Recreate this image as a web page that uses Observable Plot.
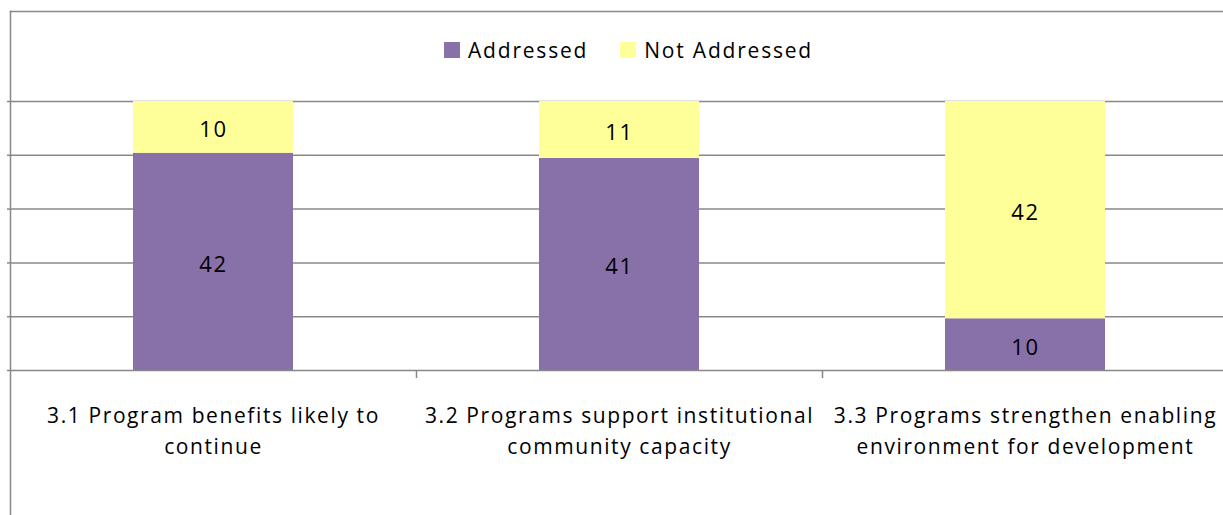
<!DOCTYPE html>
<html>
<head>
<meta charset="utf-8">
<script src="https://cdn.jsdelivr.net/npm/d3@7"></script>
<script src="https://cdn.jsdelivr.net/npm/@observablehq/plot@0.6"></script>
<style>
  html, body { margin: 0; padding: 0; background: #fff; overflow: hidden; }
  #wrap { position: relative; width: 1223px; height: 515px; }
  #legend { position: absolute; top: 36px; left: 444px; display: flex; align-items: center;
            font-family: "Open Sans", sans-serif; font-size: 21px; letter-spacing: 1.8px; color: #000; }
  #legend .item { display: flex; align-items: center; margin-right: 32px; }
  #legend .sw { width: 16px; height: 16px; margin-right: 8px; }
</style>
</head>
<body>
<div id="wrap"><div id="legend"></div></div>
<script>
const categories = [
  "3.1 Program benefits likely to\ncontinue",
  "3.2 Programs support institutional\ncommunity capacity",
  "3.3 Programs strengthen enabling\nenvironment for development"
];
const series = ["Addressed", "Not Addressed"];
const addressed = [42, 41, 10];
const notAddressed = [10, 11, 42];
const colors = ["#8870A8", "#FFFF99"];
const gridTicks = [0, 0.2, 0.4, 0.6, 0.8, 1];

const values = [addressed, notAddressed];
const data = series.flatMap((s, si) => categories.map((c, ci) => ({category: c, series: s, value: values[si][ci]})));

const xRange = [10, 1228];
const step = (xRange[1] - xRange[0]) / categories.length;

const chart = Plot.plot({
  width: 1223,
  height: 515,
  marginTop: 11,
  marginLeft: 10,
  marginRight: 0,
  marginBottom: 0,
  x: {domain: categories, range: xRange, paddingInner: 0.606, paddingOuter: 0.303, axis: null},
  y: {domain: [0, 1], range: [370, 101], axis: null},
  color: {domain: series, range: colors},
  style: {fontFamily: "Open Sans, sans-serif", fontSize: "21px", background: "white", color: "#000", letterSpacing: "1.6px"},
  marks: [
    Plot.frame({anchor: "top", stroke: "#888", strokeWidth: 1.5}),
    Plot.frame({anchor: "left", stroke: "#888", strokeWidth: 1.5}),
    Plot.gridY(gridTicks.slice(1), {stroke: "#888", strokeOpacity: 1, strokeWidth: 1.5}),
    Plot.axisY(gridTicks, {tickSize: 3, tickFormat: () => "", label: null, stroke: "#888", strokeWidth: 1.5}),
    Plot.barY(data, Plot.stackY({x: "category", y: "value", fill: "series", offset: "normalize", order: null})),
    Plot.text(data, Plot.stackY({x: "category", y: "value", text: "value", offset: "normalize", order: null, fill: "#000", fontSize: 22, dy: 3})),
    Plot.ruleY([0], {stroke: "#888", strokeWidth: 1.5}),
    Plot.ruleX(categories.slice(1), {x: d => d, dx: -step / 2, y1: 0, y2: -0.03, stroke: "#888", strokeWidth: 1.5}),
    Plot.text(categories, {x: d => d, y: 0, text: d => d, lineAnchor: "top", dy: 31, lineHeight: 1.46, fill: "#000", fontSize: 21})
  ]
});
document.getElementById("wrap").prepend(chart);

const legend = document.getElementById("legend");
series.forEach((s, i) => {
  const item = document.createElement("div");
  item.className = "item";
  const sw = document.createElement("div");
  sw.className = "sw";
  sw.style.background = colors[i];
  const t = document.createElement("span");
  t.textContent = s;
  item.append(sw, t);
  legend.append(item);
});
</script>
</body>
</html>
